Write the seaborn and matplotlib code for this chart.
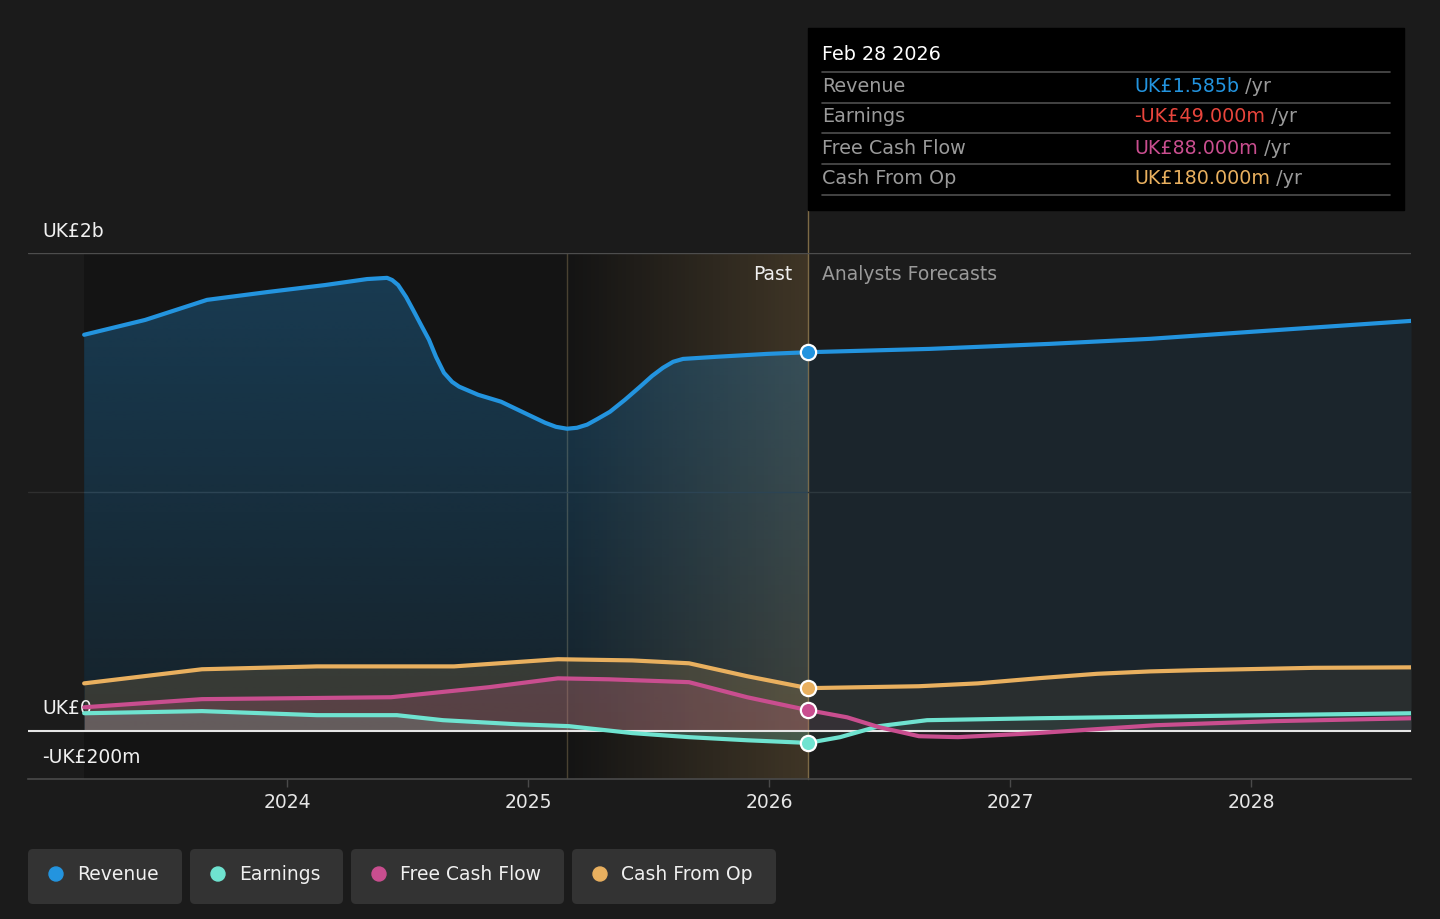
import numpy as np
import pandas as pd
import seaborn as sns
import matplotlib.pyplot as plt
from matplotlib.patches import Rectangle, FancyBboxPatch, Circle
from matplotlib.colors import LinearSegmentedColormap

# Data (UK£ millions, x in fractional years)
rev_x = [2023.158, 2023.411, 2023.668, 2023.921, 2024.158, 2024.332, 2024.415, 2024.436,
         2024.461, 2024.494, 2024.523, 2024.556, 2024.589, 2024.618, 2024.651, 2024.685,
         2024.714, 2024.793, 2024.888, 2025.0, 2025.071, 2025.116, 2025.162, 2025.203,
         2025.245, 2025.290, 2025.340, 2025.402, 2025.465, 2025.515, 2025.560, 2025.602,
         2025.643, 2025.784, 2025.992, 2026.162, 2026.668, 2027.166, 2027.581, 2027.996,
         2028.664]
rev_y = [1658, 1720, 1804, 1837, 1866, 1891, 1896, 1887,
         1866, 1816, 1762, 1699, 1637, 1566, 1499, 1461,
         1441, 1407, 1378, 1324, 1290, 1273, 1265, 1269,
         1282, 1307, 1336, 1386, 1441, 1486, 1520, 1545,
         1557, 1566, 1578, 1585, 1599, 1620, 1641, 1670,
         1716]

earn_x = [2023.158, 2023.647, 2024.124, 2024.456, 2024.647, 2024.954, 2025.170, 2025.432,
          2025.668, 2025.909, 2026.162, 2026.295, 2026.456, 2026.656, 2027.112, 2027.768, 2028.664]
earn_y = [75, 84, 67, 67, 46, 29, 21, -8,
          -25, -38, -49, -25, 21, 46, 54, 63, 75]

fcf_x = [2023.158, 2023.647, 2024.431, 2024.838, 2025.124, 2025.336, 2025.668, 2025.909,
         2026.162, 2026.324, 2026.456, 2026.622, 2026.784, 2027.112, 2027.606, 2028.095, 2028.664]
fcf_y = [100, 134, 142, 184, 221, 217, 205, 142,
         88, 58, 17, -21, -25, -8, 25, 42, 54]

cfo_x = [2023.158, 2023.647, 2024.124, 2024.693, 2025.124, 2025.432, 2025.668, 2025.909,
         2026.162, 2026.622, 2026.867, 2027.124, 2027.361, 2027.581, 2027.768, 2028.261,
         2028.664]
cfo_y = [200, 259, 271, 271, 301, 296, 284, 230,
         180, 188, 200, 222, 240, 250, 255, 265,
         267]

year_ticks = [2024, 2025, 2026, 2027, 2028]
now_x = 2026.162
band_start = 2025.162

series = [
    ("Revenue", rev_x, rev_y, "#2394df", 0.26, 0.09),
    ("Earnings", earn_x, earn_y, "#6fe3d0", 0.22, 0.07),
    ("Free Cash Flow", fcf_x, fcf_y, "#c94e8f", 0.22, 0.07),
    ("Cash From Op", cfo_x, cfo_y, "#e9b05f", 0.16, 0.07),
]
tooltip_vals = ["UK£1.585b", "-UK£49.000m", "UK£88.000m", "UK£180.000m"]
tooltip_cols = ["#2394df", "#e8453c", "#c94e8f", "#e9b05f"]

sns.set_style("dark")
plt.rcParams["font.family"] = ["DejaVu Sans"]

fig = plt.figure(figsize=(14.4, 9.19), dpi=100, facecolor="#1b1b1b")
ax = fig.add_axes([28 / 1440, 1 - 779 / 919, 1383 / 1440, 526 / 919])
ax.set_facecolor("#1b1b1b")
x_left, x_right = 2022.925, 2028.664
ax.set_xlim(x_left, x_right)
ax.set_ylim(-200, 2000)

# past background and highlight band
ax.axvspan(rev_x[0], now_x, color="#141414", lw=0, zorder=0)
band_cmap = LinearSegmentedColormap.from_list(
    "band", [(0.79, 0.63, 0.38, 0.0), (0.79, 0.63, 0.38, 0.24)])
ax.imshow(np.linspace(0, 1, 256).reshape(1, -1), extent=[band_start, now_x, -200, 2000],
          aspect="auto", cmap=band_cmap, zorder=0.5, interpolation="bilinear")
ax.axvline(band_start, color="#4a4232", lw=1, zorder=1)
ax.axvline(now_x, ymin=0, ymax=(779 - 210) / (779 - 253), color="#7d6a45", lw=1,
           zorder=1, clip_on=False)

# grid lines
ax.axhline(2000, color="#4d4d4d", lw=1, zorder=1)
ax.axhline(1000, color="#2f2f2f", lw=1, zorder=1)
ax.axhline(0, color="#e6e6e6", lw=1.5, zorder=2.5)

for i, (name, xs, ys, col, a_past, a_fut) in enumerate(series):
    xs = np.array(xs)
    ys = np.array(ys)
    past = xs <= now_x + 1e-9
    fut = xs >= now_x - 1e-9
    if i == 0:
        # vertical gradient under revenue in the past section
        poly = ax.fill_between(xs[past], 0, ys[past], color="none", lw=0)
        rgb = plt.matplotlib.colors.to_rgb(col)
        grad = LinearSegmentedColormap.from_list("g", [(*rgb, 0.11), (*rgb, 0.31)])
        im = ax.imshow(np.linspace(0, 1, 256).reshape(-1, 1), extent=[xs[0], now_x, 0, 1950],
                       origin="lower", aspect="auto", cmap=grad, zorder=1.5,
                       interpolation="bilinear")
        im.set_clip_path(poly.get_paths()[0], transform=ax.transData)
    else:
        ax.fill_between(xs[past], 0, ys[past], color=col, alpha=a_past, lw=0, zorder=1.5)
    ax.fill_between(xs[fut], 0, ys[fut], color=col, alpha=a_fut, lw=0, zorder=1.5)
    df = pd.DataFrame({"x": xs, "y": ys})
    sns.lineplot(data=df, x="x", y="y", ax=ax, color=col, lw=3.0, estimator=None,
                 sort=True, zorder=3, solid_capstyle="round", solid_joinstyle="round")
    ax.plot([now_x], [np.interp(now_x, xs, ys)], "o", ms=11, mfc=col, mec="white",
            mew=1.6, zorder=4)

ax.set_xlim(x_left, x_right)
ax.set_ylim(-200, 2000)
ax.set_xlabel("")
ax.set_ylabel("")
for s in ["top", "left", "right"]:
    ax.spines[s].set_visible(False)
ax.spines["bottom"].set_color("#4a4a4a")
ax.spines["bottom"].set_linewidth(1.2)
ax.set_xticks(year_ticks)
ax.set_xticklabels([str(y) for y in year_ticks])
ax.set_yticks([])
ax.tick_params(axis="x", colors="#4a4a4a", length=6, width=1, pad=4,
               labelcolor="#e6e6e6", labelsize=13.5, bottom=True)
ax.grid(False)

# y labels
lbl_tr = ax.get_yaxis_transform()
ax.text(0.0101, 2092, "UK£2b", transform=lbl_tr, color="#f0f0f0", fontsize=13.5,
        va="center", ha="left")
ax.text(0.0101, 96, "UK£0", transform=lbl_tr, color="#f0f0f0", fontsize=13.5,
        va="center", ha="left", zorder=2)
ax.text(0.0101, -109, "-UK£200m", transform=lbl_tr, color="#f0f0f0", fontsize=13.5,
        va="center", ha="left")

ax.annotate("Past", xy=(now_x, 1912), xytext=(-11, 0), textcoords="offset points",
            color="#f0f0f0", fontsize=13.5, ha="right", va="center")
ax.annotate("Analysts Forecasts", xy=(now_x, 1912), xytext=(10, 0), textcoords="offset points",
            color="#9a9a9a", fontsize=13.5, ha="left", va="center")

# overlay in pixel coordinates: tooltip and legend
ov = fig.add_axes([0, 0, 1, 1], zorder=10)
ov.set_xlim(0, 1440)
ov.set_ylim(919, 0)
ov.axis("off")
ov.patch.set_alpha(0)

ov.add_patch(Rectangle((808, 28), 596, 182, color="#000000"))
ov.text(822, 55, "Feb 28 2026", color="white", fontsize=13.8, va="center", ha="left")
for yy in [72, 103, 133, 164, 195]:
    ov.plot([822, 1390], [yy, yy], color="#4f4f4f", lw=1.2)
row_y = [87, 117, 148, 178]
for (name, *_), val, vcol, yy in zip(series, tooltip_vals, tooltip_cols, row_y):
    ov.text(822, yy, name, color="#9a9a9a", fontsize=13.8, va="center", ha="left")
    t = ov.text(1134, yy, val, color=vcol, fontsize=13.8, va="center", ha="left")
    ov.annotate(" /yr", xy=(1, 0.5), xycoords=t, color="#9a9a9a", fontsize=13.8,
                va="center", ha="left")

boxes = [(28, 154), (190, 153), (351, 213), (572, 204)]
for (name, _, _, col, _, _), (bx, bw) in zip(series, boxes):
    ov.add_patch(FancyBboxPatch((bx + 5, 854), bw - 10, 45, boxstyle="round,pad=5",
                                fc="#333333", ec="none"))
    ov.add_patch(Circle((bx + 28, 874), 7, color=col))
    ov.text(bx + 49, 874, name, color="#f0f0f0", fontsize=13.5, va="center", ha="left")

fig.savefig("out.png", dpi=100, facecolor=fig.get_facecolor())
